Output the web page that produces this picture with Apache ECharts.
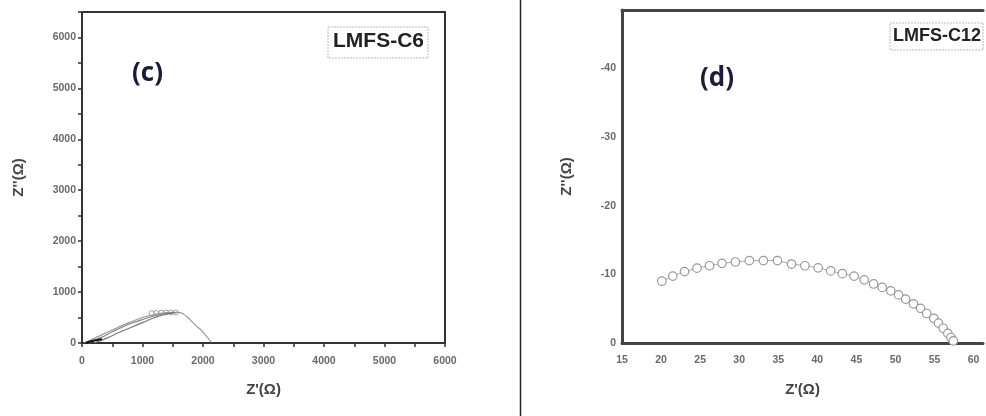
<!DOCTYPE html>
<html><head><meta charset="utf-8">
<script src="https://cdn.jsdelivr.net/npm/echarts@6/dist/echarts.min.js"></script>
<style>html,body{margin:0;padding:0;background:#fff}#c{width:986px;height:416px}</style>
</head><body><div id="c"></div>
<script>
// Panel (c) LMFS-C6 : Z' (ohm) vs Z'' (ohm)
const c6ArcOuter = [[40,0],[200,90],[400,200],[600,310],[800,410],[1000,500],[1200,560],[1400,595],[1590,602],[1730,520],[1840,390],[2000,215],[2140,10]];
const c6ArcMid   = [[100,0],[300,100],[500,220],[700,330],[900,420],[1100,500],[1300,560],[1500,590]];
const c6ArcInner = [[200,0],[400,90],[600,200],[800,300],[1000,400],[1200,500],[1400,570],[1550,595]];
const c6Dark     = [[60,0],[150,35],[250,60],[330,75]];
const c6Markers  = [[1150,585],[1230,590],[1310,594],[1390,598],[1470,600],[1550,600]];
// Panel (d) LMFS-C12 : Z' (ohm) vs Z'' (ohm, negative)
const c12Points = [[20.1,-9.0],[21.5,-9.75],[23.0,-10.4],[24.6,-10.9],[26.2,-11.25],[27.8,-11.6],[29.5,-11.8],[31.3,-12.0],[33.1,-12.0],[34.9,-12.0],[36.7,-11.5],[38.4,-11.25],[40.1,-10.95],[41.7,-10.5],[43.2,-10.1],[44.7,-9.75],[46.0,-9.2],[47.2,-8.6],[48.3,-8.1],[49.4,-7.6],[50.4,-7.0],[51.3,-6.4],[52.3,-5.7],[53.2,-5.05],[54.0,-4.3],[54.9,-3.6],[55.5,-2.9],[56.1,-2.15],[56.7,-1.4],[57.1,-0.8],[57.4,-0.3]];
const c12Dark = [[57.0,-1.2],[57.3,-0.6],[57.6,-0.1]];
const xTicksC = [0,1000,2000,3000,4000,5000,6000];
const yTicksC = [0,1000,2000,3000,4000,5000,6000];
const xTicksD = [15,20,25,30,35,40,45,50,55,60];
const yTicksD = [0,-10,-20,-30,-40];

const labelFont = {fontFamily:'Liberation Sans', fontWeight:'bold', fontSize:10.5, color:'#6a6a6a'};
const nameFont = {fontFamily:'Liberation Sans', fontWeight:'bold', fontSize:15, color:'#444'};

const chart = echarts.init(document.getElementById('c'));
chart.setOption({
  animation:false,
  grid:[
    {left:82, top:12, width:363, height:331, show:true, borderColor:'#333', borderWidth:2, backgroundColor:'transparent'},
    {left:622, top:10, right:0, height:333, show:false}
  ],
  xAxis:[
    {gridIndex:0, type:'value', min:0, max:6000, interval:1000,
     name:"Z'(Ω)", nameLocation:'middle', nameGap:39, nameTextStyle:nameFont,
     axisLine:{lineStyle:{color:'#333', width:2}},
     axisTick:{show:true, length:4, lineStyle:{color:'#333', width:1.5}},
     minorTick:{show:true, splitNumber:2, length:4, lineStyle:{color:'#333', width:1.5}},
     splitLine:{show:false},
     axisLabel:Object.assign({margin:13, formatter:v=>xTicksC.includes(v)?String(v):''}, labelFont)},
    {gridIndex:1, type:'value', min:15, max:61.2, interval:5,
     name:"Z'(Ω)", nameLocation:'middle', nameGap:39, nameTextStyle:nameFont,
     axisLine:{lineStyle:{color:'#444', width:3}},
     axisTick:{show:false},
     splitLine:{show:false},
     axisLabel:Object.assign({margin:12, formatter:v=>xTicksD.includes(v)?String(v):''}, labelFont)},
    {gridIndex:1, type:'value', min:15, max:61.2, interval:5, position:'top',
     axisLine:{lineStyle:{color:'#444', width:3}},
     axisTick:{show:false}, axisLabel:{show:false}, splitLine:{show:false}}
  ],
  yAxis:[
    {gridIndex:0, type:'value', min:0, max:6500, interval:1000,
     name:"Z''(Ω)", nameLocation:'middle', nameGap:56, nameTextStyle:nameFont,
     axisLine:{lineStyle:{color:'#333', width:2}},
     axisTick:{show:true, length:4, lineStyle:{color:'#333', width:1.5}},
     minorTick:{show:true, splitNumber:2, length:4, lineStyle:{color:'#333', width:1.5}},
     splitLine:{show:false},
     axisLabel:Object.assign({margin:6, formatter:v=>yTicksC.includes(v)?String(v):''}, labelFont)},
    {gridIndex:1, type:'value', min:-48.5, max:0, inverse:true,
     name:"Z''(Ω)", nameLocation:'middle', nameGap:48, nameTextStyle:nameFont,
     axisLine:{lineStyle:{color:'#444', width:3}},
     axisTick:{show:false},
     splitLine:{show:false},
     axisLabel:Object.assign({margin:6, showMinLabel:false, formatter:v=>yTicksD.includes(v)?String(v):''}, labelFont)}
  ],
  series:[
    {type:'line', xAxisIndex:0, yAxisIndex:0, data:c6ArcOuter, smooth:true, showSymbol:false, lineStyle:{color:'#999', width:1.2}},
    {type:'line', xAxisIndex:0, yAxisIndex:0, data:c6ArcMid, smooth:true, showSymbol:false, lineStyle:{color:'#888', width:1.2}},
    {type:'line', xAxisIndex:0, yAxisIndex:0, data:c6ArcInner, smooth:true, showSymbol:false, lineStyle:{color:'#777', width:1.2}},
    {type:'line', xAxisIndex:0, yAxisIndex:0, data:c6Dark, smooth:true, showSymbol:false, lineStyle:{color:'#111', width:2}},
    {type:'scatter', xAxisIndex:0, yAxisIndex:0, data:c6Markers, symbol:'circle', symbolSize:5, itemStyle:{color:'#fff', borderColor:'#888', borderWidth:1}},
    {type:'line', xAxisIndex:1, yAxisIndex:1, data:c12Points, smooth:false, symbol:'circle', symbolSize:8.5, showSymbol:true,
     lineStyle:{color:'#aaa', width:1}, itemStyle:{color:'#fff', borderColor:'#999', borderWidth:1.2}},
    {type:'line', xAxisIndex:1, yAxisIndex:1, data:c12Dark, showSymbol:false, lineStyle:{color:'#111', width:3}}
  ],
  graphic:[
    {type:'line', shape:{x1:520.5, y1:0, x2:520.5, y2:416}, style:{stroke:'#222', lineWidth:1.5}},
    {type:'rect', shape:{x:328, y:27, width:100, height:31}, style:{fill:'#fff', stroke:'#bbb', lineWidth:1, lineDash:[2,1]}},
    {type:'text', left:333, top:31, style:{text:'LMFS-C6', font:'bold 21px "Liberation Sans"', fill:'#222'}},
    {type:'text', left:132, top:61, style:{text:'(c)', font:'bold 26px "Open Sans"', fill:'#1c1c38'}},
    {type:'rect', shape:{x:890, y:23, width:93, height:27}, style:{fill:'#fff', stroke:'#bbb', lineWidth:1, lineDash:[2,1]}},
    {type:'text', left:893, top:27, style:{text:'LMFS-C12', font:'bold 18px "Liberation Sans"', fill:'#222'}},
    {type:'text', left:700, top:66, style:{text:'(d)', font:'bold 26px "Open Sans"', fill:'#1c1c38'}}
  ]
});
</script></body></html>
